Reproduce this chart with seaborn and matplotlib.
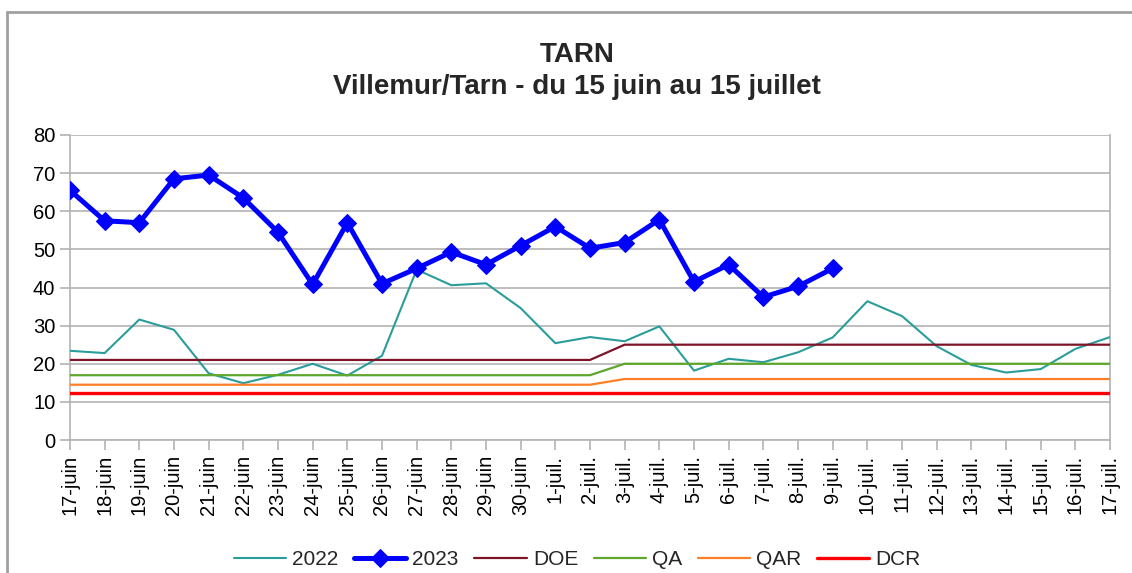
import numpy as np
import pandas as pd
import matplotlib.pyplot as plt
import seaborn as sns
from matplotlib.lines import Line2D

# Data
days = ['17-juin', '18-juin', '19-juin', '20-juin', '21-juin', '22-juin', '23-juin', '24-juin',
        '25-juin', '26-juin', '27-juin', '28-juin', '29-juin', '30-juin', '1-juil.', '2-juil.',
        '3-juil.', '4-juil.', '5-juil.', '6-juil.', '7-juil.', '8-juil.', '9-juil.', '10-juil.',
        '11-juil.', '12-juil.', '13-juil.', '14-juil.', '15-juil.', '16-juil.', '17-juil.']
q2022 = [23.4, 22.8, 31.6, 28.9, 17.5, 14.9, 17.1, 20.0, 16.9, 22.1, 44.7, 40.6, 41.1, 34.6,
         25.4, 27.0, 25.9, 29.8, 18.2, 21.3, 20.4, 23.0, 26.9, 36.4, 32.5, 24.6, 19.7, 17.7,
         18.6, 23.9, 27.0]
q2023 = [65.5, 57.5, 57.0, 68.5, 69.5, 63.5, 54.5, 40.8, 57.0, 41.0, 45.0, 49.3, 46.0, 51.0,
         56.0, 50.3, 51.8, 57.8, 41.5, 46.0, 37.5, 40.3, 45.0] + [np.nan] * 8
doe = [21] * 16 + [25] * 15
qa = [17] * 16 + [20] * 15
qar = [14.5] * 16 + [16] * 15
dcr = [12.2] * 31

df = pd.DataFrame({'pos': np.arange(len(days)), '2022': q2022, '2023': q2023,
                   'DOE': doe, 'QA': qa, 'QAR': qar, 'DCR': dcr})

sns.set_style("white")
plt.rcParams['font.family'] = ['Liberation Sans', 'DejaVu Sans']

fig = plt.figure(figsize=(11.32, 5.73), dpi=100)
ax = fig.add_axes([0.0618, 0.2321, 0.9188, 0.5323])

styles = [
    ('2022', '#2a9d9a', 1.5, None),
    ('2023', '#0000ff', 3.6, 'D'),
    ('DOE', '#7e1427', 1.6, None),
    ('QA', '#5ea62c', 1.6, None),
    ('QAR', '#ff7f27', 1.6, None),
    ('DCR', '#ff0000', 2.4, None),
]
for name, col, lw, mk in styles:
    sns.lineplot(data=df, x='pos', y=name, ax=ax, color=col, linewidth=lw,
                 marker=mk, markersize=9 if mk else 0, markeredgecolor=col,
                 label=name, zorder=5 if name == '2023' else 3)

ax.set_ylim(0, 80)
ax.set_yticks(range(0, 81, 10))
ax.set_xlim(0, len(days) - 1)
ax.set_xticks(df['pos'])
ax.set_xticklabels(days, rotation=90)
ax.set_xlabel('')
ax.set_ylabel('')
ax.grid(axis='y', color='#b3b3b3', linewidth=1.2)
ax.tick_params(axis='both', labelsize=14.5, colors='#b3b3b3', labelcolor='black',
               direction='out', length=7, width=1.2, bottom=True, left=True)
for s in ['left', 'bottom', 'right']:
    ax.spines[s].set_color('#b3b3b3')
    ax.spines[s].set_linewidth(1.2)
ax.spines['top'].set_visible(False)

fig.text(0.51, 1 - 55 / 573, 'TARN', fontsize=20, fontweight='bold',
         ha='center', va='center')
fig.text(0.51, 1 - 87 / 573, 'Villemur/Tarn - du 15 juin au 15 juillet', fontsize=20,
         fontweight='bold', ha='center', va='center')

ax.legend(loc='center', bbox_to_anchor=(0.51, 0.023), bbox_transform=fig.transFigure,
          ncol=6, frameon=False, fontsize=15, handlelength=2.5, columnspacing=0.75,
          handletextpad=0.3)

# outer chart frame
fig.add_artist(Line2D([7 / 1132, 7 / 1132], [0, 1 - 12 / 573], color='#a0a0a0',
                      linewidth=2, transform=fig.transFigure))
fig.add_artist(Line2D([7 / 1132, 1], [1 - 12 / 573, 1 - 12 / 573], color='#a0a0a0',
                      linewidth=2, transform=fig.transFigure))

fig.savefig('out.png', dpi=100)
